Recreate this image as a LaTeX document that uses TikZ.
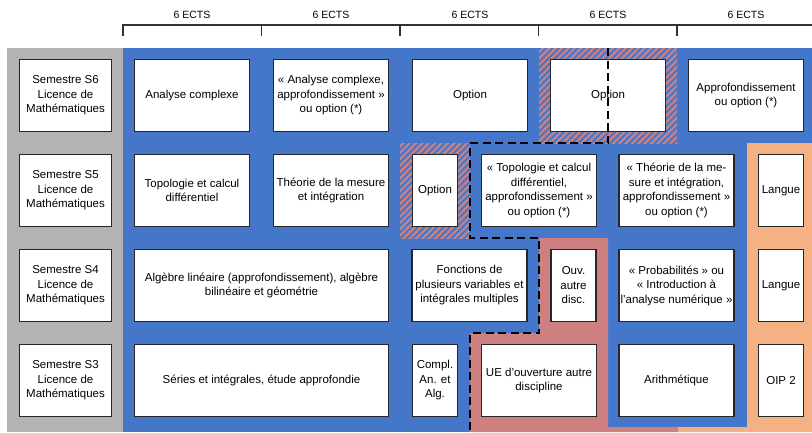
\documentclass[tikz,border=0pt]{standalone}
\usepackage{fontspec}
\setmainfont{Liberation Sans}
\usepackage{tikz}
\usetikzlibrary{patterns.meta}

\definecolor{ueblue}{RGB}{68,119,201}
\definecolor{uegray}{RGB}{179,179,179}
\definecolor{uered}{RGB}{206,128,128}
\definecolor{ueorange}{RGB}{244,177,131}

\begin{document}
\begin{tikzpicture}[x=1pt,y=-1pt,
  ue/.style={draw=black!85,line width=1.3pt,fill=white,align=center,inner sep=0pt,
    minimum width=115pt,minimum height=72pt,font=\fontsize{11.5}{14.5}\selectfont},
  narrow/.style={ue,minimum width=45pt},
  wide/.style={ue,minimum width=254pt},
  sem/.style={ue,minimum width=92pt},
  ects/.style={font=\fontsize{10.5}{12}\selectfont}]
  \useasboundingbox (0,0) rectangle (812,432);

  % backgrounds
  \fill[uegray] (7,48) rectangle (123,432);
  \fill[ueblue] (123,48) rectangle (812,432);
  \fill[uered] (539,238) -- (608,238) -- (608,427) -- (678,427) -- (678,432)
    -- (470,432) -- (470,333) -- (539,333) -- cycle;
  \fill[ueorange] (747,143) -- (812,143) -- (812,432) -- (678,432) -- (678,427)
    -- (747,427) -- cycle;
  \fill[pattern={Lines[angle=45,distance=4.5pt,line width=2.2pt]},pattern color=uered]
    (539,48) rectangle (677,143);
  \fill[pattern={Lines[angle=45,distance=4.5pt,line width=2.2pt]},pattern color=uered]
    (400,143) rectangle (470,238);

  % ECTS header
  \draw[black!80,line width=1.1pt] (123,36) -- (123,25) -- (812,25);
  \draw[black!80,line width=1.1pt] (261.5,25) -- (261.5,36);
  \draw[black!80,line width=1.1pt] (400,25) -- (400,36);
  \draw[black!80,line width=1.1pt] (538.5,25) -- (538.5,36);
  \draw[black!80,line width=1.1pt] (677,25) -- (677,36);
  \node[ects] (e1) at (192,15) {6 ECTS};
  \node[ects] (e2) at (331,15) {6 ECTS};
  \node[ects] (e3) at (470,15) {6 ECTS};
  \node[ects] (e4) at (608,15) {6 ECTS};
  \node[ects] (e5) at (746,15) {6 ECTS};

  % S6
  \node[sem] (s6) at (65.5,95.5) {Semestre S6\\Licence de\\Mathématiques};
  \node[ue] (ana) at (192,95.5) {Analyse complexe};
  \node[ue] (anaap) at (331,95.5) {« Analyse complexe,\\approfondissement »\\ou option (*)};
  \node[ue] (opt6a) at (470,95.5) {Option};
  \node[ue] (opt6b) at (608,95.5) {Option};
  \node[ue] (appro) at (746,95.5) {Approfondissement\\ou option (*)};

  % S5
  \node[sem] (s5) at (65.5,190.5) {Semestre S5\\Licence de\\Mathématiques};
  \node[ue] (topo) at (192,190.5) {Topologie et calcul\\différentiel};
  \node[ue] (mes) at (331,190.5) {Théorie de la mesure\\et intégration};
  \node[narrow] (opt5) at (435,190.5) {Option};
  \node[ue] (topoap) at (539,190.5) {« Topologie et calcul\\différentiel,\\approfondissement »\\ou option (*)};
  \node[ue] (mesap) at (676.5,190.5) {« Théorie de la me-\\sure et intégration,\\approfondissement »\\ou option (*)};
  \node[narrow] (lang5) at (781,190.5) {Langue};

  % S4
  \node[sem] (s4) at (65.5,285.5) {Semestre S4\\Licence de\\Mathématiques};
  \node[wide] (alg) at (261.5,285.5) {Algèbre linéaire (approfondissement), algèbre\\bilinéaire et géométrie};
  \node[ue] (fonc) at (469.5,285.5) {Fonctions de\\plusieurs variables et\\intégrales multiples};
  \node[narrow] (ouv) at (573.5,285.5) {Ouv.\\autre\\disc.};
  \node[ue] (proba) at (676.5,285.5) {« Probabilités » ou\\« Introduction à\\l'analyse numérique »};
  \node[narrow] (lang4) at (781,285.5) {Langue};

  % S3
  \node[sem] (s3) at (65.5,380.5) {Semestre S3\\Licence de\\Mathématiques};
  \node[wide] (ser) at (261.5,380.5) {Séries et intégrales, étude approfondie};
  \node[narrow] (compl) at (435,380.5) {Compl.\\An. et\\Alg.};
  \node[ue] (ueouv) at (539,380.5) {UE d'ouverture autre\\discipline};
  \node[ue] (arith) at (676.5,380.5) {Arithmétique};
  \node[narrow] (oip) at (781,380.5) {OIP 2};

  % limit of the choices
  \draw[black,line width=2.6pt,dash pattern=on 8pt off 4.5pt]
    (608,48) -- (608,143) -- (470,143) -- (470,238) -- (539,238)
    -- (539,333) -- (470,333) -- (470,432);
\end{tikzpicture}
\end{document}
